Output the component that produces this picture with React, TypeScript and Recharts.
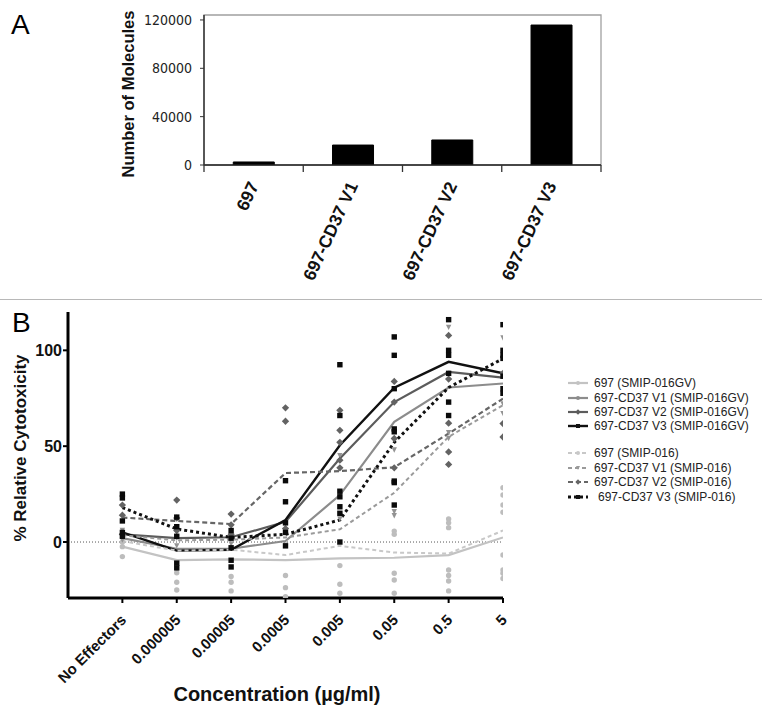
import React from "react";
import {
  BarChart,
  Bar,
  ComposedChart,
  Line,
  Scatter,
  XAxis,
  YAxis,
  ReferenceArea,
  ReferenceLine,
  Label,
  Legend,
} from "recharts";

const FONT = '"Liberation Sans", Arial, Helvetica, sans-serif';
const NARROW = '"Liberation Sans Narrow", "Arial Narrow", "DejaVu Sans Condensed", sans-serif';

// ---- panel A: surface CD37 per cell line
const cellLines = ["697", "697-CD37 V1", "697-CD37 V2", "697-CD37 V3"];
const molecules = [2500, 16500, 20700, 115800];
const moleculeTicks = [0, 40000, 80000, 120000];
const moleculeMax = 124100;

// ---- panel B: ADCC, mean curves per cell line / antibody
const concentrations = ["No Effectors", "0.000005", "0.00005", "0.0005", "0.005", "0.05", "0.5", "5"];
const cytoTicks = [0, 50, 100];

const gv697 = [-2.4, -9.4, -9, -9.4, -8.5, -8.2, -6.8, 2.4];
const gvV1 = [2, -3.5, -3.5, 0.5, 24.5, 62.7, 80.6, 82.7];
const gvV2 = [4, 2, 2.5, 10.5, 43.6, 73, 88.7, 85.8];
const gvV3 = [5, -4.5, -4, 11.5, 50.5, 80.5, 94, 88];
const smip697 = [0.5, -4.5, -4, -6.8, -2, -5.5, -6, 6];
const smipV1 = [3.5, 0.9, 1.2, 2.4, 6.6, 25.7, 54.9, 71.4];
const smipV2 = [12.8, 11, 9.4, 36, 37, 39, 56.6, 74.8];
const smipV3 = [18, 6.8, 2.4, 4, 11.5, 52, 80.6, 95.7];

// individual wells, one list per concentration
const reps697 = [
  [-2.4, -7.6, 0],
  [-16, -21, -25],
  [-18, -21, -25.5],
  [-17.5, -23.8, -28.5],
  [-12.3, -22, -26.7],
  [5.7, 4, -16.3, -19.8, -26.7],
  [12, 10, 7.5, -14.6, -17.5, -20.3, -25.5],
  [28.3, 24.5, 19.3, 15.5, -6.8, -14.6, -16.3, -19],
];
const repsV1 = [
  [6, 1],
  [2, -2],
  [3, -1],
  [5, -1.6],
  [45, 12],
  [48, 15.8, 13.7],
  [112, 57, 54],
  [106.4, 72, 67],
];
const repsV2 = [
  [19.3, 14, 4],
  [21.9, 12.5, 6],
  [14.6, 9, 4],
  [70, 63, 7],
  [68.7, 58.3, 52, 42.7, 38.7],
  [83.8, 73, 54, 38.7],
  [107.8, 85, 62, 47, 40.5],
  [88, 61.8, 54.8],
];
const repsV3 = [
  [25, 23, 11, 5, 3],
  [13, 8, 3, -11, -13.5],
  [6, 2, -3, -9.5, -13],
  [32, 21, 10, 5, -2],
  [92.5, 66, 26.5, 23.6, 18.4, 15, 0],
  [107, 97.4, 80, 59, 57.5, 31.8, 31, 19.3],
  [116, 100, 97.4, 88, 73, 66],
  [113.4, 100, 97.4, 95.8, 86.5, 80, 77.6],
];

// layout
const A_LEFT = 204;
const A_RIGHT = 601;
const A_TOP = 15;
const A_BOTTOM = 165;
const A_BAND = (A_RIGHT - A_LEFT) / cellLines.length;
const B_TOP = 12;
const B_BOTTOM = 298;
const B_LEFT = 68;
const B_RIGHT = 503;

const barRows = cellLines.map((name, i) => ({ name, count: molecules[i] }));
const curve = (vals: number[]) => vals.map((y, x) => ({ x, y }));
const wells = (reps: number[][]) => reps.flatMap((vals, x) => vals.map((y) => ({ x, y })));

const curves = [
  { name: "697 (SMIP-016GV)", data: gv697, color: "#c3c3c3", width: 2.2, dash: undefined, mark: "circle" },
  { name: "697-CD37 V1 (SMIP-016GV)", data: gvV1, color: "#8c8c8c", width: 2.2, dash: undefined, mark: "circle" },
  { name: "697-CD37 V2 (SMIP-016GV)", data: gvV2, color: "#5c5c5c", width: 2.2, dash: undefined, mark: "diamond" },
  { name: "697-CD37 V3 (SMIP-016GV)", data: gvV3, color: "#111111", width: 2.4, dash: undefined, mark: "square" },
  { name: "697 (SMIP-016)", data: smip697, color: "#c8c8c8", width: 2, dash: "4 3", mark: "circle" },
  { name: "697-CD37 V1 (SMIP-016)", data: smipV1, color: "#9a9a9a", width: 2, dash: "4 3", mark: "triangle" },
  { name: "697-CD37 V2 (SMIP-016)", data: smipV2, color: "#666666", width: 2.2, dash: "5 3", mark: "diamond" },
  { name: "697-CD37 V3 (SMIP-016)", data: smipV3, color: "#111111", width: 3, dash: "3 3", mark: "square" },
];

const wellGroups = [
  { key: "w697", data: reps697, color: "#bdbdbd", mark: "circle" },
  { key: "wV1", data: repsV1, color: "#939393", mark: "triangle" },
  { key: "wV2", data: repsV2, color: "#636363", mark: "diamond" },
  { key: "wV3", data: repsV3, color: "#0a0a0a", mark: "square" },
];

function markerPath(kind: string, cx: number, cy: number, color: string, s = 2.7) {
  if (kind === "square") return <rect x={cx - s} y={cy - s} width={2 * s} height={2 * s} fill={color} />;
  if (kind === "diamond") {
    const d = s * 1.35;
    return <path d={`M${cx},${cy - d}L${cx + d},${cy}L${cx},${cy + d}L${cx - d},${cy}Z`} fill={color} />;
  }
  if (kind === "triangle") {
    return <path d={`M${cx - s},${cy - s}L${cx + s},${cy - s}L${cx},${cy + s}Z`} fill={color} />;
  }
  return <circle cx={cx} cy={cy} r={s} fill={color} />;
}

const wellShape = (kind: string, color: string) => (props: any) => {
  const { cx, cy } = props;
  if (cx == null || cy == null) return <g />;
  return markerPath(kind, cx, cy, color);
};

function CellLineTick(props: any) {
  const { x, payload, index } = props;
  const half = A_BAND / 2;
  const ay = A_BOTTOM + 18;
  return (
    <g>
      <line x1={x - half} x2={x - half} y1={A_BOTTOM} y2={A_BOTTOM + 7} stroke="#333" strokeWidth={1.3} />
      {index === cellLines.length - 1 && (
        <line x1={x + half} x2={x + half} y1={A_BOTTOM} y2={A_BOTTOM + 7} stroke="#333" strokeWidth={1.3} />
      )}
      <text
        x={x}
        y={ay}
        transform={`rotate(-65 ${x} ${ay})`}
        textAnchor="end"
        dominantBaseline="central"
        fontFamily={FONT}
        fontWeight="bold"
        fontSize={17.5}
        fill="#111"
      >
        {payload.value}
      </text>
    </g>
  );
}

function ConcTick(props: any) {
  const { x, payload } = props;
  const ax = x + 1;
  const ay = B_BOTTOM + 19;
  return (
    <text
      x={ax}
      y={ay}
      transform={`rotate(-45 ${ax} ${ay})`}
      textAnchor="end"
      dominantBaseline="central"
      fontFamily={FONT}
      fontWeight="bold"
      fontSize={15}
      fill="#111"
    >
      {concentrations[payload.value]}
    </text>
  );
}

function CytoLegend() {
  const rows = [7, 22, 36, 50, 77, 92, 106, 121];
  return (
    <svg width={200} height={132} style={{ display: "block" }}>
      {curves.map((c, i) => (
        <g key={c.name}>
          <line x1={6} x2={26} y1={rows[i]} y2={rows[i]} stroke={c.color} strokeWidth={c.width} strokeDasharray={c.dash} />
          {markerPath(c.mark, 16, rows[i], c.color, 2)}
          <text
            x={i === 7 ? 36 : 32}
            y={rows[i]}
            dominantBaseline="central"
            fontFamily={FONT}
            fontSize={12}
            fill="#222"
          >
            {c.name}
          </text>
        </g>
      ))}
    </svg>
  );
}

export default function App() {
  return (
    <div style={{ position: "absolute", left: 0, top: 0, width: 762, height: 712, background: "#fff" }}>
      <div style={{ position: "absolute", left: 11, top: 11, fontFamily: FONT, fontSize: 28, lineHeight: "28px" }}>A</div>
      <div style={{ position: "absolute", left: 12, top: 309, fontFamily: FONT, fontSize: 28, lineHeight: "28px" }}>B</div>
      <div style={{ position: "absolute", left: 0, top: 299, width: 762, height: 1, background: "#b8b8b8" }} />

      <div style={{ position: "absolute", left: 0, top: 0 }}>
        <BarChart
          width={762}
          height={298}
          data={barRows}
          margin={{ top: A_TOP, right: 762 - A_RIGHT, bottom: 0, left: 0 }}
          barCategoryGap="29.5%"
        >
          <ReferenceArea y1={0} y2={moleculeMax} fill="none" stroke="#a0a0a0" strokeWidth={1.3} ifOverflow="visible" />
          <XAxis
            dataKey="name"
            height={298 - A_BOTTOM}
            interval={0}
            axisLine={{ stroke: "#222", strokeWidth: 1.5 }}
            tickLine={false}
            tick={<CellLineTick />}
          />
          <YAxis
            width={A_LEFT}
            domain={[0, moleculeMax]}
            ticks={moleculeTicks}
            allowDataOverflow
            axisLine={{ stroke: "#333", strokeWidth: 1.5 }}
            tickLine={{ stroke: "#333" }}
            tickSize={4}
            tickMargin={8}
            tick={{ fontFamily: NARROW, fontSize: 14, fill: "#222" }}
          >
            <Label
              content={() => (
                <text
                  x={128}
                  y={94}
                  transform="rotate(-90 128 94)"
                  textAnchor="middle"
                  dominantBaseline="central"
                  fontFamily={FONT}
                  fontWeight="bold"
                  fontSize={16.5}
                  fill="#111"
                >
                  Number of Molecules
                </text>
              )}
            />
          </YAxis>
          <Bar dataKey="count" fill="#000" stroke="#000" isAnimationActive={false} />
        </BarChart>
      </div>

      <div style={{ position: "absolute", left: 0, top: 300 }}>
        <ComposedChart
          width={762}
          height={412}
          margin={{ top: B_TOP, right: 762 - B_RIGHT, bottom: 0, left: 0 }}
        >
          <XAxis
            type="number"
            dataKey="x"
            domain={[-1, concentrations.length - 1]}
            ticks={concentrations.map((_, i) => i)}
            interval={0}
            height={412 - B_BOTTOM}
            allowDataOverflow
            axisLine={{ stroke: "#000", strokeWidth: 3 }}
            tickLine={{ stroke: "#000", strokeWidth: 2 }}
            tickSize={5}
            tick={<ConcTick />}
          >
            <Label
              content={() => (
                <text
                  x={277}
                  y={394}
                  textAnchor="middle"
                  dominantBaseline="central"
                  fontFamily={FONT}
                  fontWeight="bold"
                  fontSize={20}
                  fill="#111"
                >
                  Concentration (µg/ml)
                </text>
              )}
            />
          </XAxis>
          <YAxis
            type="number"
            dataKey="y"
            domain={[-29.2, 120]}
            ticks={cytoTicks}
            allowDataOverflow
            width={B_LEFT}
            axisLine={{ stroke: "#000", strokeWidth: 3 }}
            tickLine={{ stroke: "#000", strokeWidth: 2 }}
            tickSize={5}
            tickMargin={1}
            tick={{ fontFamily: FONT, fontWeight: "bold", fontSize: 16, fill: "#111" }}
          >
            <Label
              content={() => (
                <text
                  x={20}
                  y={148}
                  transform="rotate(-90 20 148)"
                  textAnchor="middle"
                  dominantBaseline="central"
                  fontFamily={FONT}
                  fontWeight="bold"
                  fontSize={17}
                  fill="#111"
                >
                  % Relative Cytotoxicity
                </text>
              )}
            />
          </YAxis>
          <ReferenceLine y={0} stroke="#555" strokeWidth={1} strokeDasharray="1 2" />
          {curves.map((c) => (
            <Line
              key={c.name}
              name={c.name}
              data={curve(c.data)}
              dataKey="y"
              type="linear"
              stroke={c.color}
              strokeWidth={c.width}
              strokeDasharray={c.dash}
              dot={false}
              activeDot={false}
              isAnimationActive={false}
            />
          ))}
          {wellGroups.map((g) => (
            <Scatter
              key={g.key}
              data={wells(g.data)}
              fill={g.color}
              shape={wellShape(g.mark, g.color)}
              isAnimationActive={false}
              legendType="none"
            />
          ))}
          <Legend
            layout="vertical"
            align="center"
            verticalAlign="middle"
            wrapperStyle={{ position: "absolute", left: 562, top: 76, width: 200 }}
            content={() => <CytoLegend />}
          />
        </ComposedChart>
      </div>
    </div>
  );
}
